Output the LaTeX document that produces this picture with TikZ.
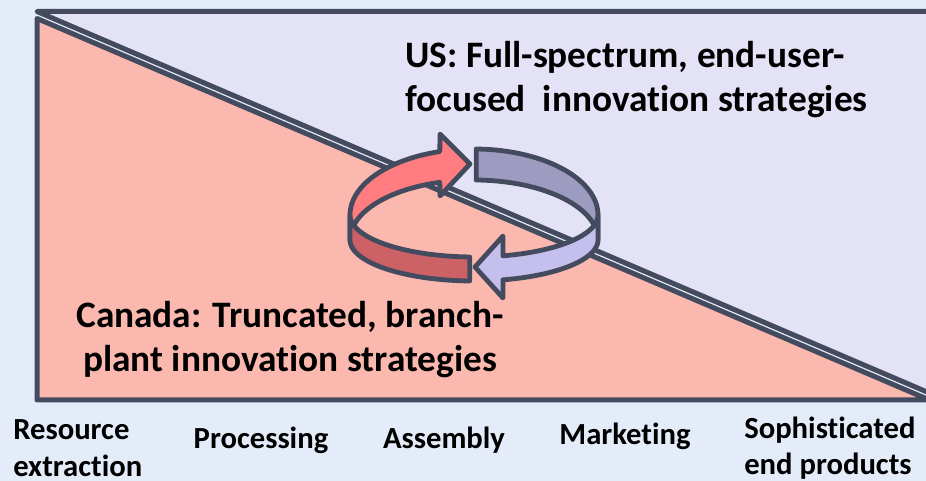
\documentclass[tikz,border=0pt]{standalone}
\usepackage{fontspec}
\setmainfont{Carlito}[Ligatures=NoCommon]
\definecolor{bgc}{HTML}{E4ECFA}
\definecolor{lavbg}{HTML}{E4E2F6}
\definecolor{salmon}{HTML}{FBB8AE}
\definecolor{edge}{HTML}{454B5E}
\definecolor{redA}{HTML}{FF7C80}
\definecolor{redD}{HTML}{CC6166}
\definecolor{lavD}{HTML}{9D9BC0}
\definecolor{lavL}{HTML}{C4BFEC}
\tikzset{
  tri/.style={draw=edge, line width=3.75pt, line join=round},
  ring/.style={draw=edge, line width=3.6pt, line join=round},
  bigtxt/.style={inner sep=0pt, font=\fontsize{28}{33}\selectfont\bfseries},
  axtxt/.style={inner sep=0pt, font=\fontsize{23}{27.75}\selectfont\bfseries}
}
\begin{document}
\begin{tikzpicture}[x=0.75pt, y=-0.75pt]
\useasboundingbox (0,0) rectangle (926,481);
\clip (0,0) rectangle (926,481);
\fill[bgc] (0,0) rectangle (926,481);
% triangles
\filldraw[tri, fill=salmon] (37,18.5) -- (37,400) -- (929.4,400) -- cycle;
\filldraw[tri, fill=lavbg] (37,11.5) -- (990,11.5) -- (990,418.9) -- cycle;
% ring: back pieces
\filldraw[ring, fill=redA]
  plot[domain=180:254, samples=40] ({474+124*cos(\x)},{215+66*sin(\x)})
  -- (440,134) -- (470,164) -- (440,196)
  -- plot[domain=254:180, samples=40] ({474+124*cos(\x)},{240+60*sin(\x)})
  -- cycle;
\filldraw[ring, fill=lavD]
  plot[domain=271:360, samples=40] ({474+124*cos(\x)},{215+66*sin(\x)})
  -- plot[domain=360:271, samples=40] ({474+124*cos(\x)},{240+60*sin(\x)})
  -- cycle;
% ring: front pieces
\filldraw[ring, fill=redD]
  plot[domain=180:92, samples=40] ({474+124*cos(\x)},{215+42*sin(\x)})
  -- plot[domain=92:180, samples=40] ({474+124*cos(\x)},{240+41*sin(\x)})
  -- cycle;
\filldraw[ring, fill=lavL]
  plot[domain=0:76.5, samples=40] ({474+124*cos(\x)},{215+42*sin(\x)})
  -- (503,236) -- (475,267) -- (503,298)
  -- plot[domain=76.5:0, samples=40] ({474+124*cos(\x)},{240+41*sin(\x)})
  -- cycle;
% texts
\node[bigtxt, anchor=base west] (us) at (405,68)
  {\begin{tabular}[t]{@{}l@{}}US: Full-spectrum, end-user-\\focused\ \ innovation strategies\end{tabular}};
\node[bigtxt, anchor=base] (ca) at (290,328)
  {\begin{tabular}[t]{@{}c@{}}Canada: Truncated, branch-\\plant innovation strategies\end{tabular}};
\node[axtxt, anchor=base west] (res) at (13,440)
  {\begin{tabular}[t]{@{}l@{}}Resource\\extraction\end{tabular}};
\node[axtxt, anchor=base] (proc) at (261,448) {Processing};
\node[axtxt, anchor=base] (asm) at (444,448) {Assembly};
\node[axtxt, anchor=base] (mkt) at (625,445) {Marketing};
\node[axtxt, anchor=base west] (soph) at (744,438)
  {\begin{tabular}[t]{@{}l@{}}Sophisticated\\end products\end{tabular}};
\end{tikzpicture}
\end{document}
